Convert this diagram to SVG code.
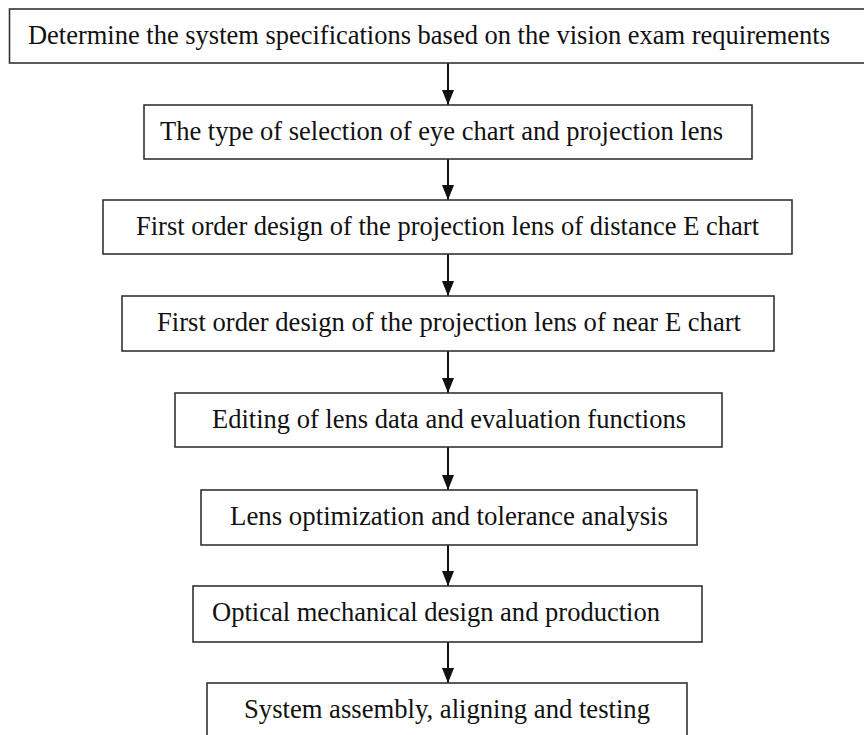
<svg xmlns="http://www.w3.org/2000/svg" width="864" height="735" viewBox="0 0 864 735">
<style>
.box{fill:#fff;stroke:#333;stroke-width:1.6}
.t{font-family:"Liberation Serif","Times New Roman",Times,serif;font-size:27.5px;fill:#111}
.c{stroke:#111;stroke-width:2;fill:none}
</style>
<defs>
<marker id="ah" viewBox="0 0 15 12" refX="15" refY="6" markerWidth="15" markerHeight="12" markerUnits="userSpaceOnUse" orient="auto">
<path d="M0,0 L15,6 L0,12 Z" fill="#111"/>
</marker>
</defs>
<rect width="864" height="735" fill="#fff"/>
<g id="connectors">
<line class="c" x1="448" y1="63" x2="448" y2="105" marker-end="url(#ah)"/>
<line class="c" x1="448" y1="159" x2="448" y2="200" marker-end="url(#ah)"/>
<line class="c" x1="448" y1="254" x2="448" y2="296" marker-end="url(#ah)"/>
<line class="c" x1="448" y1="351" x2="448" y2="393" marker-end="url(#ah)"/>
<line class="c" x1="448" y1="447" x2="448" y2="490" marker-end="url(#ah)"/>
<line class="c" x1="448" y1="545" x2="448" y2="586" marker-end="url(#ah)"/>
<line class="c" x1="448" y1="642" x2="448" y2="683" marker-end="url(#ah)"/>
</g>
<g id="n1"><rect class="box" x="9.5" y="9" width="860" height="54"/>
<text class="t" x="28" y="44" textLength="802" lengthAdjust="spacingAndGlyphs">Determine the system specifications based on the vision exam requirements</text></g>
<g id="n2"><rect class="box" x="144" y="105" width="608" height="54"/>
<text class="t" x="160" y="140" textLength="563" lengthAdjust="spacingAndGlyphs">The type of selection of eye chart and projection lens</text></g>
<g id="n3"><rect class="box" x="103" y="200" width="689" height="54"/>
<text class="t" x="136" y="235" textLength="623" lengthAdjust="spacingAndGlyphs">First order design of the projection lens of distance E chart</text></g>
<g id="n4"><rect class="box" x="122" y="296" width="652" height="55"/>
<text class="t" x="157" y="331" textLength="584" lengthAdjust="spacingAndGlyphs">First order design of the projection lens of near E chart</text></g>
<g id="n5"><rect class="box" x="175" y="393" width="547" height="54"/>
<text class="t" x="212" y="428" textLength="474" lengthAdjust="spacingAndGlyphs">Editing of lens data and evaluation functions</text></g>
<g id="n6"><rect class="box" x="201" y="490" width="496" height="55"/>
<text class="t" x="230" y="525" textLength="438" lengthAdjust="spacingAndGlyphs">Lens optimization and tolerance analysis</text></g>
<g id="n7"><rect class="box" x="193" y="586" width="509" height="56"/>
<text class="t" x="212" y="621" textLength="448" lengthAdjust="spacingAndGlyphs">Optical mechanical design and production</text></g>
<g id="n8"><rect class="box" x="207" y="683" width="480" height="60"/>
<text class="t" x="244" y="718" textLength="406" lengthAdjust="spacingAndGlyphs">System assembly, aligning and testing</text></g>
</svg>
